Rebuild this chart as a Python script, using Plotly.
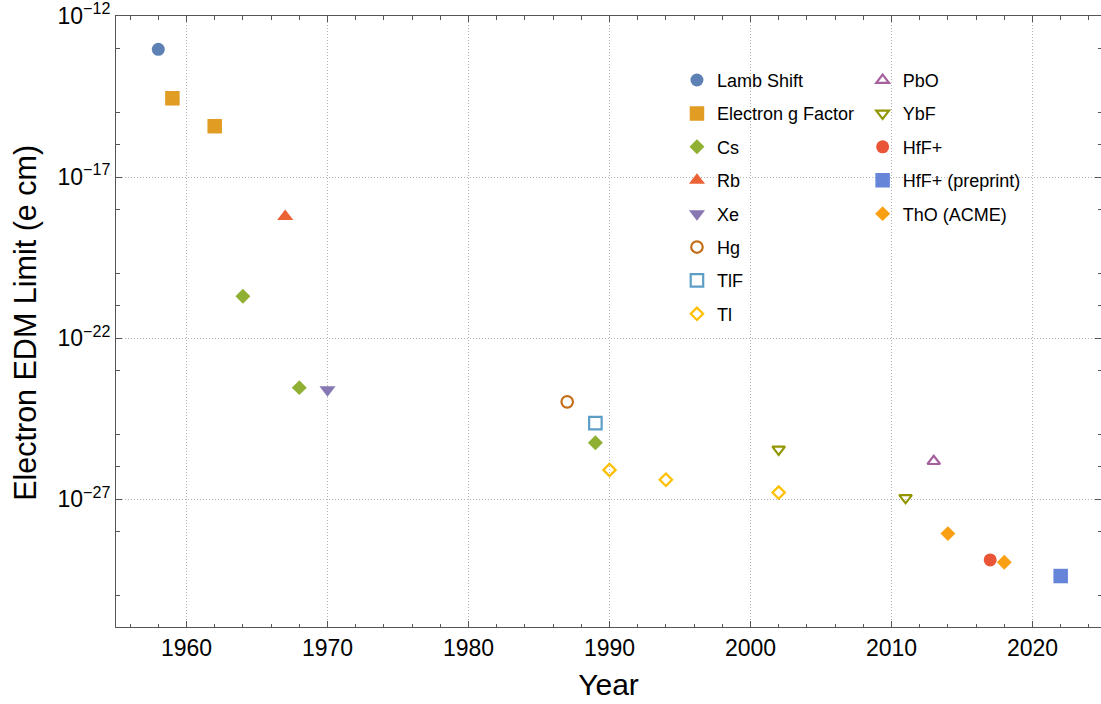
import plotly.graph_objects as go

# ---------------- data ----------------
years_lamb = [1958]
edm_lamb = [9.3e-14]

years_g = [1959, 1962]
edm_g = [2.8e-15, 3.8e-16]

years_cs = [1964, 1968, 1989]
edm_cs = [2.0e-21, 2.9e-24, 5.6e-26]

years_rb = [1967]
edm_rb = [6.0e-19]

years_xe = [1970]
edm_xe = [2.5e-24]

years_hg = [1987]
edm_hg = [1.05e-24]

years_tlf = [1989]
edm_tlf = [2.3e-25]

years_tl = [1990, 1994, 2002]
edm_tl = [8.1e-27, 4.0e-27, 1.6e-27]

years_pbo = [2013]
edm_pbo = [1.5e-26]

years_ybf = [2002, 2011]
edm_ybf = [3.5e-26, 1.1e-27]

years_hff = [2017]
edm_hff = [1.3e-29]

years_hff_pre = [2022]
edm_hff_pre = [4.1e-30]

years_tho = [2014, 2018]
edm_tho = [8.5e-29, 1.1e-29]

x_tick_vals = [1960, 1970, 1980, 1990, 2000, 2010, 2020]
y_tick_vals = [1e-27, 1e-22, 1e-17, 1e-12]
y_tick_text = ["10<sup>\u221227</sup>", "10<sup>\u221222</sup>",
               "10<sup>\u221217</sup>", "10<sup>\u221212</sup>"]
y_minor_vals = [1e-13, 1e-15, 1e-16, 1e-18, 1e-20, 1e-21, 1e-23,
                1e-25, 1e-26, 1e-28, 1e-30]

y_title = "Electron EDM Limit (e cm)"
x_title = "Year"

# ---------------- styling ----------------
FONT = "Liberation Sans, Arial, sans-serif"

series = [
    # name, x, y, symbol, color, size, line width, legend
    ("Lamb Shift", years_lamb, edm_lamb, "circle", "#5E81B5", 13, 0, "legend"),
    ("Electron g Factor", years_g, edm_g, "square", "#E19C24", 14.5, 0, "legend"),
    ("Cs", years_cs, edm_cs, "diamond", "#8FB032", 11.5, 0, "legend"),
    ("Rb", years_rb, edm_rb, "triangle-up", "#EB6235", 14, 0, "legend"),
    ("Xe", years_xe, edm_xe, "triangle-down", "#8778B3", 14, 0, "legend"),
    ("Hg", years_hg, edm_hg, "circle-open", "#C56E1A", 11.5, 2.2, "legend"),
    ("TlF", years_tlf, edm_tlf, "square-open", "#5D9EC7", 12.5, 2.2, "legend"),
    ("Tl", years_tl, edm_tl, "diamond-open", "#FFBF00", 9.5, 2.2, "legend"),
    ("PbO", years_pbo, edm_pbo, "triangle-up-open", "#A5609D", 11, 2.2, "legend2"),
    ("YbF", years_ybf, edm_ybf, "triangle-down-open", "#929600", 11, 2.2, "legend2"),
    ("HfF+", years_hff, edm_hff, "circle", "#E95536", 13, 0, "legend2"),
    ("HfF+ (preprint)", years_hff_pre, edm_hff_pre, "square", "#6685D9", 14.5, 0, "legend2"),
    ("ThO (ACME)", years_tho, edm_tho, "diamond", "#F89F13", 11.5, 0, "legend2"),
]

fig = go.Figure()
for i, (name, xs, ys, sym, col, size, lw, leg) in enumerate(series):
    marker = dict(symbol=sym, color=col, size=size)
    if lw:
        marker["line"] = dict(width=lw, color=col)
    else:
        marker["line"] = dict(width=0)
    fig.add_trace(go.Scatter(x=xs, y=ys, mode="markers", name=name,
                             marker=marker, legend=leg,
                             legendgroup="g%d" % i))

axis_color = "#555555"
grid_color = "#B4B4B4"
grid_dash = "1px,2px"

fig.update_layout(
    width=1101, height=704,
    margin=dict(l=116, r=0, t=16, b=77),
    paper_bgcolor="white", plot_bgcolor="white",
    font=dict(family=FONT, color="black"),
    legend=dict(x=0.5695, y=0.925, xanchor="left", yanchor="top",
                bgcolor="rgba(0,0,0,0)", font=dict(size=18, family=FONT),
                traceorder="grouped", tracegroupgap=7),
    legend2=dict(x=0.758, y=0.925, xanchor="left", yanchor="top",
                 bgcolor="rgba(0,0,0,0)", font=dict(size=18, family=FONT),
                 traceorder="grouped", tracegroupgap=7),
    annotations=[dict(
        text=y_title, textangle=-90, showarrow=False,
        xref="paper", yref="paper", x=0, y=0.497,
        xanchor="left", yanchor="middle", xshift=-110,
        font=dict(size=30.5, family=FONT, color="black"),
    )],
)

fig.update_xaxes(
    range=[1955, 2024.86], showline=True, linecolor=axis_color, linewidth=1,
    mirror="ticks", ticks="inside", ticklen=6, tickcolor=axis_color,
    tickmode="array", tickvals=x_tick_vals,
    tickfont=dict(size=23, family=FONT, color="black"),
    showgrid=True, gridcolor=grid_color, griddash=grid_dash, gridwidth=1,
    minor=dict(dtick=2, tick0=1956, ticks="inside", ticklen=3.5,
               tickcolor=axis_color, showgrid=False),
    zeroline=False,
    title=dict(text=x_title, font=dict(size=30, family=FONT, color="black"),
               standoff=14),
)

fig.update_yaxes(
    type="log", range=[-30.97, -11.998], showline=True, linecolor=axis_color,
    linewidth=1, mirror="ticks", ticks="inside", ticklen=6,
    tickcolor=axis_color, tickmode="array", tickvals=y_tick_vals,
    ticktext=y_tick_text, ticklabeloverflow="allow",
    tickfont=dict(size=23, family=FONT, color="black"),
    showgrid=True, gridcolor=grid_color, griddash=grid_dash, gridwidth=1,
    minor=dict(tickmode="array", tickvals=y_minor_vals, ticks="inside",
               ticklen=3.5, tickcolor=axis_color, showgrid=False),
    zeroline=False,
)

fig.write_html("out.html")
